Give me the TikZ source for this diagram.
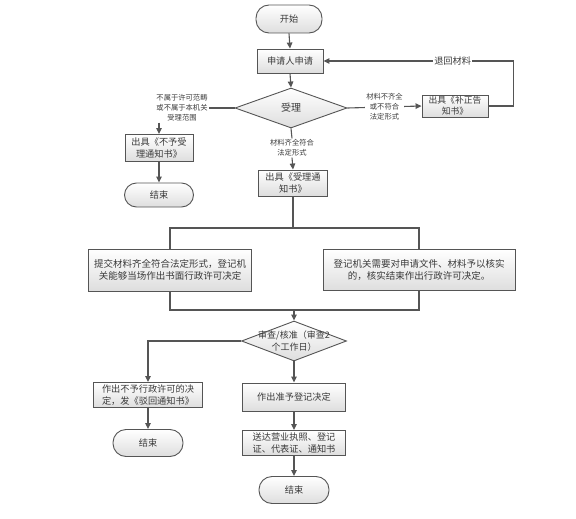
\documentclass[tikz,border=0pt]{standalone}
\usepackage{fontspec}
\setmainfont{Noto Sans CJK SC}
\usetikzlibrary{shapes.geometric,arrows.meta}
\definecolor{lineg}{HTML}{555555}
\definecolor{textg}{HTML}{3A3A3A}
\newcommand\flowfont{\fontsize{9.2}{12}\selectfont}
\newcommand\tagfont{\fontsize{7.3}{10}\selectfont}
\tikzset{
  flowbox/.style={draw=lineg, line width=.9pt, top color=white, bottom color=black!13, text=textg, align=center, inner sep=.5pt, font=\flowfont},
  term/.style={flowbox, rounded corners=13pt},
  decide/.style={diamond, draw=lineg, line width=.9pt, top color=white, bottom color=black!13, inner sep=0pt, text=textg},
  tag/.style={fill=white, text=textg, align=center, inner sep=1pt, font=\tagfont},
  conn/.style={draw=lineg, line width=1.1pt}
}
\begin{document}
\begin{tikzpicture}[x=1pt,y=-1pt,>={Triangle[length=6pt,width=5.5pt]}]
\useasboundingbox (0,0) rectangle (576,519);
% top part
\node[term, minimum width=66pt, minimum height=28pt] (start) at (289,19) {开始};
\node[flowbox, minimum width=66pt, minimum height=24pt] (apply) at (290,61) {申请人申请};
\node[decide, minimum width=112pt, minimum height=40pt, font=\fontsize{10}{12}\selectfont] (accept) at (291,108) {受理};
\node[flowbox, minimum width=66pt, minimum height=22pt, font=\fontsize{8.8}{11}\selectfont] (fix) at (455,106) {出具《补正告\\知书》};
\node[tag] (rejtag) at (182,108) {不属于许可范畴\\或不属于本机关\\受理范围};
\node[flowbox, minimum width=68pt, minimum height=27pt] (no) at (159,148) {出具《不予受\\理通知书》};
\node[term, minimum width=69pt, minimum height=24pt, rounded corners=12pt] (end1) at (159,195) {结束};
\node[tag] (oktag) at (292,148) {材料齐全符合\\法定形式};
\node[flowbox, minimum width=69pt, minimum height=26pt] (ok) at (293,183) {出具《受理通\\知书》};
\coordinate (split) at (293,228);
% middle part
\node[flowbox, minimum width=163pt, minimum height=42pt, font=\fontsize{9.5}{12.5}\selectfont] (lbig) at (170,270) {提交材料齐全符合法定形式，登记机\\关能够当场作出书面行政许可决定};
\node[flowbox, minimum width=192pt, minimum height=41pt, font=\fontsize{9.5}{12.5}\selectfont] (rbig) at (419,270) {登记机关需要对申请文件、材料予以核实\\的，核实结束作出行政许可决定。};
\coordinate (merge) at (294,310);
\node[decide, minimum width=105pt, minimum height=40pt, label={[text=textg, align=center, font=\fontsize{9}{12}\selectfont]center:审查/核准（审查2\\个工作日）}] (check) at (294,341) {};
% bottom part
\node[flowbox, minimum width=109pt, minimum height=25pt] (deny) at (148,395) {作出不予行政许可的决\\定，发《驳回通知书》};
\node[term, minimum width=70pt, minimum height=27pt] (end2) at (148,443) {结束};
\node[flowbox, minimum width=103pt, minimum height=28pt] (grant) at (294,397) {作出准予登记决定};
\node[flowbox, minimum width=103pt, minimum height=25pt] (deliver) at (294,443) {送达营业执照、登记\\证、代表证、通知书};
\node[term, minimum width=70pt, minimum height=27pt] (end3) at (294,490) {结束};
% connectors
\foreach \a/\b in {start/apply, apply/accept, oktag/ok, no/end1, check/grant, grant/deliver, deliver/end3, deny/end2}
  \draw[conn,->] (\a.south) -- (\b.north);
\draw[conn] (accept.south) -- (oktag.north);
\draw[conn] (accept.west) -- (rejtag.east);
\draw[conn,->] (no.north |- rejtag.south) -- (no.north);
\draw[conn,->] (accept.east) -- node[tag] {材料不齐全\\或不符合\\法定形式} (fix.west);
\draw[conn,->] (fix.east) -- ++(25,0) |- node[tag, pos=.66, font=\flowfont] {退回材料} (apply.east);
\draw[conn] (ok.south) -- (split);
\draw[conn] (lbig.north) |- (split) -| (rbig.north);
\draw[conn] (lbig.south) |- (merge) -| (rbig.south);
\draw[conn,->] (merge) -- (check.north);
\draw[conn,->] (check.west) -| (deny.north);
\end{tikzpicture}
\end{document}
